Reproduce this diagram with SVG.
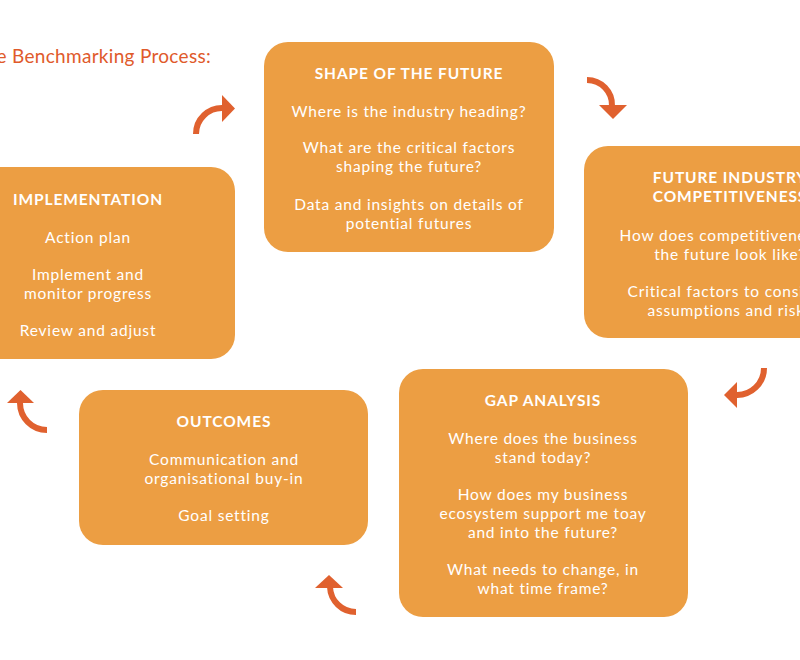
<svg xmlns="http://www.w3.org/2000/svg" width="800" height="660" viewBox="0 0 800 660">
<style>
.box{fill:#EC9E43;}
.t{font-family:Lato,"Open Sans","Liberation Sans",sans-serif;font-size:15.5px;letter-spacing:0.8px;fill:#ffffff;text-anchor:middle;}
.h{font-weight:700;font-size:15.5px;letter-spacing:0.9px;}
.title{font-family:Lato,"Open Sans","Liberation Sans",sans-serif;font-size:19px;letter-spacing:0.3px;fill:#E05A2B;}
.arc{fill:none;stroke:#E0612F;stroke-width:6;}
.head{fill:#E0612F;}
</style>
<rect width="800" height="660" fill="#ffffff"/>
<text class="title" x="211" y="63" text-anchor="end">The Benchmarking Process:</text>

<g id="shape-of-the-future">
<rect class="box" x="264" y="42" width="290" height="210" rx="24"/>
<text class="t h" x="409" y="79">SHAPE OF THE FUTURE</text>
<text class="t" x="409" y="117">Where is the industry heading?</text>
<text class="t" x="409" y="153">What are the critical factors</text>
<text class="t" x="409" y="172">shaping the future?</text>
<text class="t" x="409" y="210">Data and insights on details of</text>
<text class="t" x="409" y="229">potential futures</text>
</g>

<g id="future-industry-competitiveness">
<rect class="box" x="584" y="146" width="290" height="192" rx="24"/>
<text class="t h" x="730" y="183">FUTURE INDUSTRY</text>
<text class="t h" x="730" y="202">COMPETITIVENESS</text>
<text class="t" x="730" y="241">How does competitiveness in</text>
<text class="t" x="730" y="260">the future look like?</text>
<text class="t" x="730" y="297">Critical factors to consider,</text>
<text class="t" x="730" y="316">assumptions and risks</text>
</g>

<g id="gap-analysis">
<rect class="box" x="399" y="369" width="289" height="248" rx="24"/>
<text class="t h" x="543" y="406">GAP ANALYSIS</text>
<text class="t" x="543" y="444">Where does the business</text>
<text class="t" x="543" y="463">stand today?</text>
<text class="t" x="543" y="500">How does my business</text>
<text class="t" x="543" y="519">ecosystem support me toay</text>
<text class="t" x="543" y="538">and into the future?</text>
<text class="t" x="543" y="575">What needs to change, in</text>
<text class="t" x="543" y="594">what time frame?</text>
</g>

<g id="outcomes">
<rect class="box" x="79" y="390" width="289" height="155" rx="24"/>
<text class="t h" x="224" y="427">OUTCOMES</text>
<text class="t" x="224" y="465">Communication and</text>
<text class="t" x="224" y="484">organisational buy-in</text>
<text class="t" x="224" y="521">Goal setting</text>
</g>

<g id="implementation">
<rect class="box" x="-60" y="167" width="295" height="192" rx="24"/>
<text class="t h" x="88" y="205">IMPLEMENTATION</text>
<text class="t" x="88" y="243">Action plan</text>
<text class="t" x="88" y="280">Implement and</text>
<text class="t" x="88" y="299">monitor progress</text>
<text class="t" x="88" y="336">Review and adjust</text>
</g>

<g id="connectors">
<path class="arc" d="M196,134 A26,26 0 0 1 223,108"/>
<polygon class="head" points="222,95 235,108.5 222,122"/>
<path class="arc" d="M587,80 A25,25 0 0 1 612,106"/>
<polygon class="head" points="599,105 627,105 613,119"/>
<path class="arc" d="M764,368 A27,27 0 0 1 736,395"/>
<polygon class="head" points="737,382 737,408 724,395"/>
<path class="arc" d="M356,612 A26,26 0 0 1 330,587"/>
<polygon class="head" points="315,588 343,588 329,575"/>
<path class="arc" d="M47,430 A27,27 0 0 1 20,403"/>
<polygon class="head" points="7,403 34,403 20.5,390"/>
</g>
</svg>
